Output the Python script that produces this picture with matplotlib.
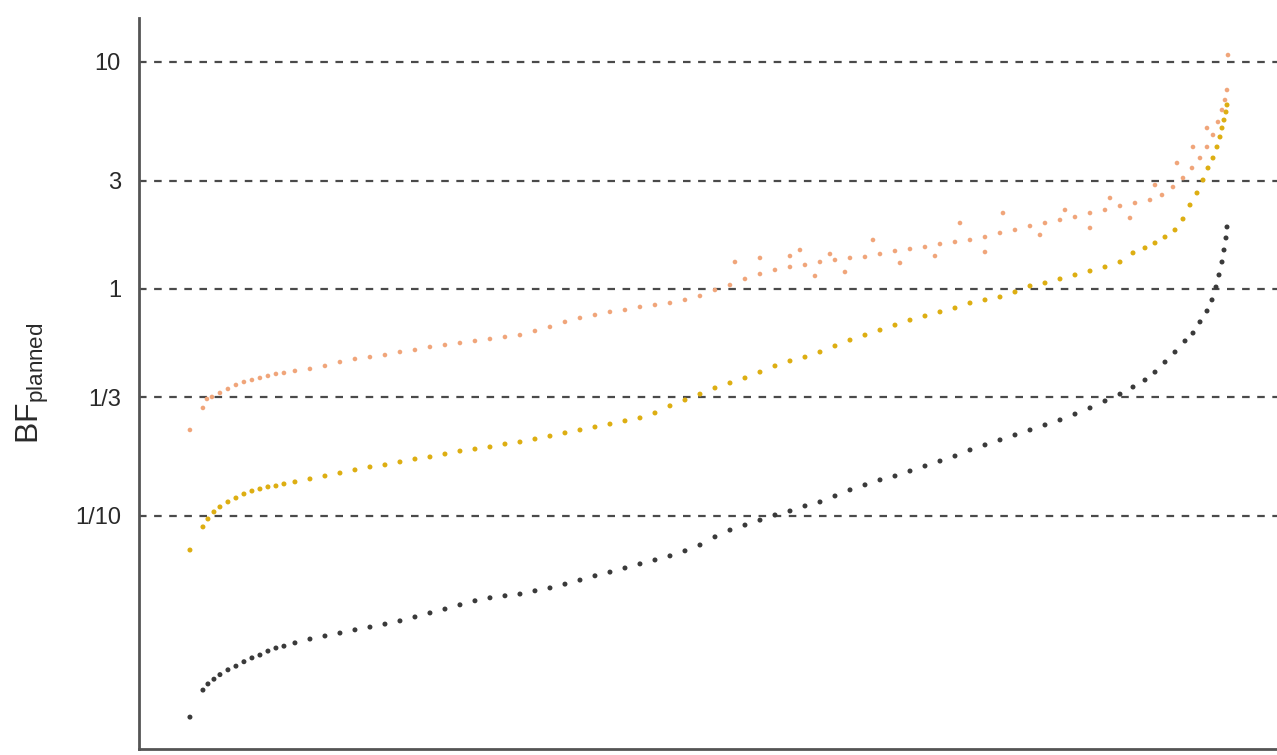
import matplotlib
matplotlib.use("Agg")
import matplotlib.pyplot as plt
from matplotlib.ticker import FixedLocator, NullLocator

plt.rcParams['font.family'] = ['Liberation Sans', 'DejaVu Sans']
plt.rcParams['mathtext.fontset'] = 'custom'
plt.rcParams['mathtext.rm'] = 'Liberation Sans'
plt.rcParams['mathtext.it'] = 'Liberation Sans'

# ---- data (study rank, BF values) ----
rank_low = [0, 13, 18, 24, 30, 38, 46, 54, 62, 70, 78, 86, 94, 105,
            120, 135, 150, 165, 180, 195, 210, 225, 240, 255,
            270, 285, 300, 315, 330, 345, 360, 375, 390, 405,
            420, 435, 450, 465, 480, 495, 510, 525, 540, 555,
            570, 585, 600, 615, 630, 645, 660, 675, 690, 705,
            720, 735, 750, 765, 780, 795, 810, 825, 840, 855,
            870, 885, 900, 915, 930,
            943, 955, 965, 975, 985, 995, 1003, 1010, 1017, 1022,
            1026, 1029, 1032, 1034, 1036, 1037]
bf_low = [0.0130, 0.0171, 0.0182, 0.0191, 0.0200, 0.0210, 0.0218, 0.0228, 0.0237, 0.0244,
          0.0254, 0.0262, 0.0267, 0.0276,
          0.0287, 0.0296, 0.0305, 0.0315, 0.0324, 0.0334, 0.0345, 0.0359, 0.0374, 0.0389,
          0.0406, 0.0423, 0.0436, 0.0445, 0.0453, 0.0468, 0.0482, 0.0501, 0.0522, 0.0545,
          0.0566, 0.0590, 0.0615, 0.0640, 0.0667, 0.0702, 0.0745, 0.0809, 0.0867, 0.0912,
          0.0959, 0.1010, 0.1052, 0.1107, 0.1153, 0.1225, 0.1303, 0.1371, 0.1442, 0.1500,
          0.1578, 0.1660, 0.1746, 0.1837, 0.1954, 0.2056, 0.2163, 0.2275, 0.2393, 0.2518,
          0.2649, 0.2812, 0.2992, 0.3211, 0.3443,
          0.3700, 0.3972, 0.4305, 0.4766, 0.5277, 0.5902, 0.6397, 0.7161, 0.8000, 0.8951,
          1.020, 1.153, 1.315, 1.485, 1.678, 1.876]

rank_mid = [0, 13, 18, 24, 30, 38, 46, 54, 62, 70, 78, 86, 94, 105,
            120, 135, 150, 165, 180, 195, 210, 225, 240, 255,
            270, 285, 300, 315, 330, 345, 360, 375, 390, 405,
            420, 435, 450, 465, 480, 495, 510, 525, 540, 555,
            570, 585, 600, 615, 630, 645, 660, 675, 690, 705,
            720, 735, 750, 765, 780, 795, 810, 825, 840, 855,
            870, 885, 900, 915, 930,
            943, 955, 965, 975, 985, 993, 1000, 1007, 1013, 1018,
            1023, 1027, 1030, 1032, 1034, 1036, 1037]
bf_mid = [0.0708, 0.0895, 0.0970, 0.1042, 0.1096, 0.1153, 0.1200, 0.1250, 0.1288, 0.1315,
          0.1343, 0.1356, 0.1384, 0.1413,
          0.1456, 0.1500, 0.1546, 0.1596, 0.1644, 0.1679, 0.1730, 0.1782, 0.1820, 0.1875,
          0.1932, 0.1972, 0.2014, 0.2075, 0.2118, 0.2183, 0.2249, 0.2323, 0.2393, 0.2466,
          0.2541, 0.2624, 0.2704, 0.2844, 0.3055, 0.3243, 0.3443, 0.3664, 0.3855, 0.4055,
          0.4305, 0.4581, 0.4819, 0.5012, 0.5277, 0.5610, 0.5957, 0.6266, 0.6592, 0.6934,
          0.7295, 0.7603, 0.7925, 0.8246, 0.8675, 0.8951, 0.9221, 0.9700, 1.031, 1.063,
          1.107, 1.153, 1.200, 1.250, 1.315,
          1.442, 1.517, 1.595, 1.694, 1.820, 2.034, 2.344, 2.648, 3.020, 3.412,
          3.776, 4.223, 4.674, 5.119, 5.549, 6.022, 6.469]

rank_high = [0, 13, 17, 22, 30, 38, 46, 54, 62, 70, 78, 86, 94, 105,
             120, 135, 150, 165, 180, 195, 210, 225, 240, 255,
             270, 285, 300, 315, 330, 345, 360, 375, 390, 405,
             420, 435, 450, 465, 480, 495, 510, 525, 540, 555,
             570, 585, 600, 615, 630, 645, 660, 675, 690, 705,
             720, 735, 750, 765, 780, 795, 810, 825, 840, 855,
             870, 885, 900, 915, 930, 945,
             960, 972, 983, 993, 1002, 1010, 1017, 1023, 1028, 1032,
             1035, 1037, 1038,
             545, 570, 600, 610, 625, 640, 655, 683, 710, 745,
             770, 795, 813, 850, 875, 900, 920, 940, 965, 987,
             1003, 1017]
bf_high = [0.2393, 0.2992, 0.3277, 0.3345, 0.3483, 0.3627, 0.3777, 0.3893, 0.3972, 0.4055,
           0.4139, 0.4224, 0.4267, 0.4355,
           0.4445, 0.4581, 0.4766, 0.4916, 0.5012, 0.5117, 0.5277, 0.5387, 0.5553, 0.5666,
           0.5781, 0.5902, 0.6022, 0.6146, 0.6266, 0.6531, 0.6805, 0.7161, 0.7454, 0.7682,
           0.7925, 0.8082, 0.8333, 0.8502, 0.8675, 0.8951, 0.9315, 0.9899, 1.041, 1.107,
           1.164, 1.213, 1.250, 1.276, 1.315, 1.342, 1.370, 1.384, 1.426, 1.470,
           1.500, 1.531, 1.578, 1.611, 1.644, 1.694, 1.765, 1.820, 1.894, 1.953,
           2.014, 2.075, 2.161, 2.229, 2.321, 2.392,
           2.466, 2.594, 2.813, 3.083, 3.412, 3.776, 4.223, 4.769, 5.441, 6.145,
           6.800, 7.526, 10.73,
           1.315, 1.370, 1.397, 1.485, 1.141, 1.426, 1.188, 1.644, 1.302, 1.397,
           1.953, 1.455, 2.161, 1.730, 2.229, 1.857, 2.517, 2.055, 2.871, 3.589,
           4.223, 5.119]

tick_values = [0.1, 1 / 3, 1, 3, 10]
tick_labels = ['1/10', '1/3', '1', '3', '10']

# ---- figure ----
fig = plt.figure(figsize=(12.77, 7.55), dpi=100)
ax = fig.add_axes([0.1088, 0.0080, 1.0 - 0.1088, 0.9762 - 0.0080])

ax.set_yscale('log')
ax.set_ylim(0.00941, 15.63)
ax.set_xlim(-51, 1087)

for v in tick_values:
    ax.axhline(v, color='#4a4a4a', lw=1.6, ls=(0, (3.4, 3.4)), zorder=1)

ax.scatter(rank_high, bf_high, s=11, color='#F0A57A', edgecolors='none', zorder=3)
ax.scatter(rank_mid, bf_mid, s=13, color='#DDAE12', edgecolors='none', zorder=3)
ax.scatter(rank_low, bf_low, s=13, color='#3a3a3a', edgecolors='none', zorder=3)

ax.yaxis.set_major_locator(FixedLocator(tick_values))
ax.set_yticklabels(tick_labels)
ax.yaxis.set_minor_locator(NullLocator())
ax.xaxis.set_major_locator(NullLocator())
ax.xaxis.set_minor_locator(NullLocator())
ax.tick_params(axis='y', length=0, pad=13, labelsize=17, labelcolor='#2a2a2a')

for side in ['top', 'right']:
    ax.spines[side].set_visible(False)
for side in ['left', 'bottom']:
    ax.spines[side].set_color('#555555')
    ax.spines[side].set_linewidth(2.0)

ax.set_ylabel(r'BF$_{\mathrm{planned}}$', fontsize=23, color='#2a2a2a')
ax.yaxis.set_label_coords(-0.077, 0.50)

fig.savefig('out.png', dpi=100)
